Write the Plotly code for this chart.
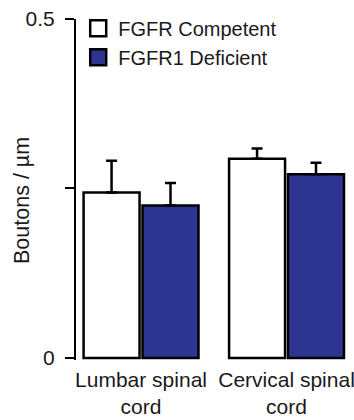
import plotly.graph_objects as go

categories = ["Lumbar spinal<br>cord", "Cervical spinal<br>cord"]
series_names = ["FGFR Competent", "FGFR1 Deficient"]
competent = [0.244, 0.294]
competent_err = [0.047, 0.015]
deficient = [0.225, 0.271]
deficient_err = [0.033, 0.017]
y_tickvals = [0, 0.25, 0.5]
y_ticktext = ["0", "", "0.5"]
y_title = "Boutons / µm"

FONT = "Arial, 'Liberation Sans', Helvetica, sans-serif"
TXT = "#1a1a1a"
BLUE = "#2e3590"

fig = go.Figure()
for name, vals, errs, fill in [
    (series_names[0], competent, competent_err, "white"),
    (series_names[1], deficient, deficient_err, BLUE),
]:
    fig.add_trace(go.Bar(
        x=categories, y=vals, name=name, showlegend=False,
        marker=dict(color=fill, line=dict(color="black", width=2.5)),
        error_y=dict(type="data", symmetric=False, array=errs,
                     arrayminus=[0] * len(errs), color="black",
                     thickness=2.5, width=5.5),
    ))
    # legend entry with larger square symbol
    fig.add_trace(go.Scatter(
        x=[None], y=[None], mode="markers", name=name,
        marker=dict(symbol="square", size=16, color=fill,
                    line=dict(color="black", width=2.5)),
    ))

fig.update_layout(
    width=354, height=420,
    margin=dict(l=76, r=2, t=19, b=60, autoexpand=False),
    paper_bgcolor="white", plot_bgcolor="white",
    barmode="group", bargap=0.19, bargroupgap=0.05,
    font=dict(family=FONT, color=TXT, size=21),
    legend=dict(x=0.008, y=1.03, xanchor="left", yanchor="top",
                font=dict(size=20, color=TXT), bgcolor="rgba(0,0,0,0)",
                tracegroupgap=0),
    showlegend=True,
)
fig.update_xaxes(
    type="category", categoryorder="array", categoryarray=categories,
    range=[-0.447, 1.45], showline=False, showgrid=False, zeroline=False,
    ticks="", tickfont=dict(size=21, color=TXT), ticklabelstandoff=5,
)
fig.update_yaxes(
    range=[-0.003, 0.5], showline=True, linecolor="black", linewidth=2,
    ticks="outside", ticklen=9, tickwidth=2, tickcolor="black",
    tickvals=y_tickvals, ticktext=y_ticktext, tickfont=dict(size=21, color=TXT),
    showgrid=False, zeroline=False, ticklabelstandoff=6,
)
fig.add_annotation(
    text=y_title, textangle=-90, xref="paper", yref="paper",
    x=-0.196, y=0.469, xanchor="center", yanchor="middle",
    showarrow=False, font=dict(size=21.5, color=TXT),
)
fig.write_html(
    "out.html",
    config={"displayModeBar": False},
    post_script="document.body.style.margin='0';document.body.style.overflow='hidden';",
)
